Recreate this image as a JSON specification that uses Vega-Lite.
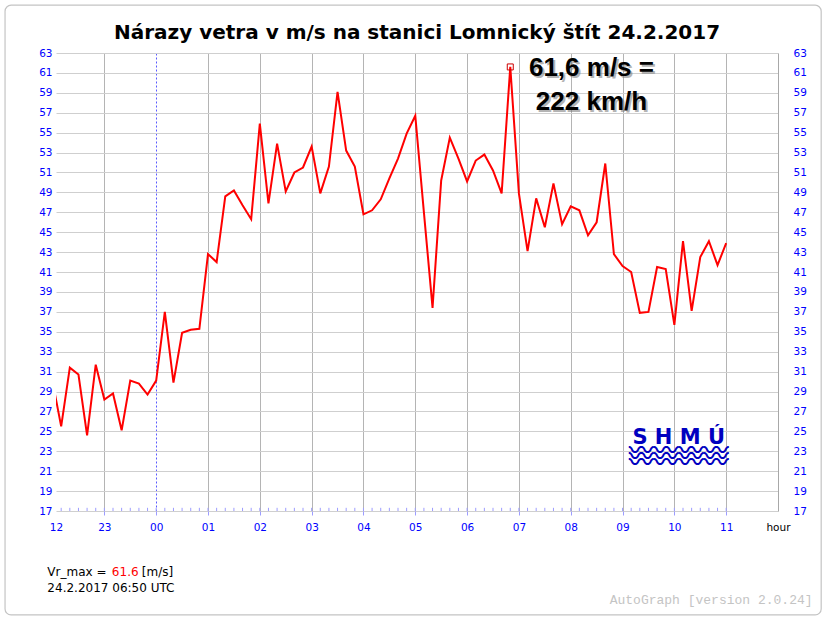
{
  "$schema": "https://vega.github.io/schema/vega-lite/v6.json",
  "width": 722,
  "height": 458,
  "autosize": {"type": "none"},
  "padding": {"left": 56, "top": 53, "right": 49, "bottom": 109},
  "background": "white",
  "config": {"view": {"stroke": null}},
  "data": {"values": [
    {"t": "2017-02-23T22:00Z", "v": 30.0},
    {"t": "2017-02-23T22:10Z", "v": 25.5},
    {"t": "2017-02-23T22:20Z", "v": 31.4},
    {"t": "2017-02-23T22:30Z", "v": 30.7},
    {"t": "2017-02-23T22:40Z", "v": 24.6},
    {"t": "2017-02-23T22:50Z", "v": 31.7},
    {"t": "2017-02-23T23:00Z", "v": 28.2},
    {"t": "2017-02-23T23:10Z", "v": 28.8},
    {"t": "2017-02-23T23:20Z", "v": 25.1},
    {"t": "2017-02-23T23:30Z", "v": 30.1},
    {"t": "2017-02-23T23:40Z", "v": 29.8},
    {"t": "2017-02-23T23:50Z", "v": 28.7},
    {"t": "2017-02-24T00:00Z", "v": 30.1},
    {"t": "2017-02-24T00:10Z", "v": 37.0},
    {"t": "2017-02-24T00:20Z", "v": 29.9},
    {"t": "2017-02-24T00:30Z", "v": 34.9},
    {"t": "2017-02-24T00:40Z", "v": 35.2},
    {"t": "2017-02-24T00:50Z", "v": 35.3},
    {"t": "2017-02-24T01:00Z", "v": 42.8},
    {"t": "2017-02-24T01:10Z", "v": 42.0},
    {"t": "2017-02-24T01:20Z", "v": 48.6},
    {"t": "2017-02-24T01:30Z", "v": 49.2},
    {"t": "2017-02-24T01:40Z", "v": 47.7},
    {"t": "2017-02-24T01:50Z", "v": 46.3},
    {"t": "2017-02-24T02:00Z", "v": 55.9},
    {"t": "2017-02-24T02:10Z", "v": 47.9},
    {"t": "2017-02-24T02:20Z", "v": 53.9},
    {"t": "2017-02-24T02:30Z", "v": 49.1},
    {"t": "2017-02-24T02:40Z", "v": 51.0},
    {"t": "2017-02-24T02:50Z", "v": 51.5},
    {"t": "2017-02-24T03:00Z", "v": 53.6},
    {"t": "2017-02-24T03:10Z", "v": 48.9},
    {"t": "2017-02-24T03:20Z", "v": 51.6},
    {"t": "2017-02-24T03:30Z", "v": 59.1},
    {"t": "2017-02-24T03:40Z", "v": 53.2},
    {"t": "2017-02-24T03:50Z", "v": 51.6},
    {"t": "2017-02-24T04:00Z", "v": 46.8},
    {"t": "2017-02-24T04:10Z", "v": 47.2},
    {"t": "2017-02-24T04:20Z", "v": 48.3},
    {"t": "2017-02-24T04:30Z", "v": 50.4},
    {"t": "2017-02-24T04:40Z", "v": 52.4},
    {"t": "2017-02-24T04:50Z", "v": 54.9},
    {"t": "2017-02-24T05:00Z", "v": 56.7},
    {"t": "2017-02-24T05:10Z", "v": 47.0},
    {"t": "2017-02-24T05:20Z", "v": 37.4},
    {"t": "2017-02-24T05:30Z", "v": 50.2},
    {"t": "2017-02-24T05:40Z", "v": 54.5},
    {"t": "2017-02-24T05:50Z", "v": 52.4},
    {"t": "2017-02-24T06:00Z", "v": 50.1},
    {"t": "2017-02-24T06:10Z", "v": 52.2},
    {"t": "2017-02-24T06:20Z", "v": 52.8},
    {"t": "2017-02-24T06:30Z", "v": 51.2},
    {"t": "2017-02-24T06:40Z", "v": 48.9},
    {"t": "2017-02-24T06:50Z", "v": 61.6},
    {"t": "2017-02-24T07:00Z", "v": 48.9},
    {"t": "2017-02-24T07:10Z", "v": 43.1},
    {"t": "2017-02-24T07:20Z", "v": 48.4},
    {"t": "2017-02-24T07:30Z", "v": 45.5},
    {"t": "2017-02-24T07:40Z", "v": 49.9},
    {"t": "2017-02-24T07:50Z", "v": 45.8},
    {"t": "2017-02-24T08:00Z", "v": 47.6},
    {"t": "2017-02-24T08:10Z", "v": 47.2},
    {"t": "2017-02-24T08:20Z", "v": 44.7},
    {"t": "2017-02-24T08:30Z", "v": 46.0},
    {"t": "2017-02-24T08:40Z", "v": 51.9},
    {"t": "2017-02-24T08:50Z", "v": 42.8},
    {"t": "2017-02-24T09:00Z", "v": 41.6},
    {"t": "2017-02-24T09:10Z", "v": 41.0},
    {"t": "2017-02-24T09:20Z", "v": 36.9},
    {"t": "2017-02-24T09:30Z", "v": 37.0},
    {"t": "2017-02-24T09:40Z", "v": 41.5},
    {"t": "2017-02-24T09:50Z", "v": 41.3},
    {"t": "2017-02-24T10:00Z", "v": 35.7},
    {"t": "2017-02-24T10:10Z", "v": 44.1},
    {"t": "2017-02-24T10:20Z", "v": 37.1},
    {"t": "2017-02-24T10:30Z", "v": 42.5},
    {"t": "2017-02-24T10:40Z", "v": 44.1},
    {"t": "2017-02-24T10:50Z", "v": 41.7},
    {"t": "2017-02-24T11:00Z", "v": 43.9}
  ]},
  "resolve": {"scale": {"y": "independent"}},
  "layer": [
    {
      "layer": [
        {
          "mark": {"type": "line", "color": "#ff0000", "strokeWidth": 2, "clip": true},
          "encoding": {
            "x": {"field": "t", "type": "temporal",
              "scale": {"type": "utc", "domain": [{"year": 2017, "month": 2, "date": 23, "hours": 22, "minutes": 4, "utc": true}, {"year": 2017, "month": 2, "date": 24, "hours": 12, "minutes": 0, "utc": true}], "nice": false},
              "axis": {
                "orient": "bottom", "title": null, "tickCount": 40,
                "values": [
                  {"year": 2017, "month": 2, "date": 23, "hours": 22, "minutes": 4, "utc": true},
                  {"year": 2017, "month": 2, "date": 23, "hours": 23, "utc": true},
                  {"year": 2017, "month": 2, "date": 24, "hours": 0, "utc": true},
                  {"year": 2017, "month": 2, "date": 24, "hours": 1, "utc": true},
                  {"year": 2017, "month": 2, "date": 24, "hours": 2, "utc": true},
                  {"year": 2017, "month": 2, "date": 24, "hours": 3, "utc": true},
                  {"year": 2017, "month": 2, "date": 24, "hours": 4, "utc": true},
                  {"year": 2017, "month": 2, "date": 24, "hours": 5, "utc": true},
                  {"year": 2017, "month": 2, "date": 24, "hours": 6, "utc": true},
                  {"year": 2017, "month": 2, "date": 24, "hours": 7, "utc": true},
                  {"year": 2017, "month": 2, "date": 24, "hours": 8, "utc": true},
                  {"year": 2017, "month": 2, "date": 24, "hours": 9, "utc": true},
                  {"year": 2017, "month": 2, "date": 24, "hours": 10, "utc": true},
                  {"year": 2017, "month": 2, "date": 24, "hours": 11, "utc": true},
                  {"year": 2017, "month": 2, "date": 24, "hours": 12, "utc": true}
                ],
                "labelExpr": "utchours(datum.value) == 22 ? '12' : (utchours(datum.value) == 12 ? 'hour' : utcFormat(datum.value, '%H'))",
                "grid": true,
                "gridColor": {"condition": {"test": "utchours(datum.value) == 0", "value": "#5a5aff"}, "value": "#b4b4b4"},
                "gridDash": {"condition": {"test": "utchours(datum.value) == 0", "value": [2, 2]}, "value": []},
                "gridOpacity": {"condition": {"test": "utchours(datum.value) == 22 || utchours(datum.value) == 12", "value": 0}, "value": 1},
                "tickOpacity": {"condition": {"test": "utchours(datum.value) == 22 || utchours(datum.value) == 12", "value": 0}, "value": 1},
                "tickColor": "#9c9cff", "tickSize": 4, "domain": false,
                "labelColor": {"condition": {"test": "utchours(datum.value) == 12", "value": "#000000"}, "value": "#0000ff"},
                "labelFont": "DejaVu Sans", "labelFontSize": 10.5, "labelPadding": 7,
                "labelFlush": false, "labelOverlap": false
              }
            },
            "y": {"field": "v", "type": "quantitative",
              "scale": {"domain": [17, 63], "nice": false, "zero": false},
              "axis": {
                "orient": "left", "title": null, "tickCount": 50,
                "values": [17, 19, 21, 23, 25, 27, 29, 31, 33, 35, 37, 39, 41, 43, 45, 47, 49, 51, 53, 55, 57, 59, 61, 63],
                "grid": true, "gridColor": "#cfcfcf", "ticks": false, "domain": false, "labelOverlap": false,
                "labelColor": "#0000ff", "labelFont": "DejaVu Sans", "labelFontSize": 10.5, "labelPadding": 4
              }
            }
          }
        },
        {
          "mark": {"type": "rule", "color": "#9c9cff", "strokeWidth": 1, "clip": true},
          "encoding": {
            "x": {"field": "t", "type": "temporal"},
            "y": {"datum": 17, "type": "quantitative"},
            "y2": {"datum": 17.32}
          }
        },
        {
          "data": {"values": [{}]},
          "mark": {"type": "rect", "filled": false, "stroke": "#c4c4c4", "strokeWidth": 1.2, "cornerRadius": 6},
          "encoding": {
            "x": {"datum": {"year": 2017, "month": 2, "date": 23, "hours": 21, "minutes": 5, "utc": true}, "type": "temporal"},
            "x2": {"datum": {"year": 2017, "month": 2, "date": 24, "hours": 12, "minutes": 50, "utc": true}},
            "y": {"datum": 67.8, "type": "quantitative"},
            "y2": {"datum": 6.56}
          }
        },
        {
          "data": {"values": [{}]},
          "mark": {"type": "text", "text": "Nárazy vetra v m/s na stanici Lomnický štít 24.2.2017", "font": "DejaVu Sans", "fontSize": 20, "fontWeight": "bold", "color": "#000000", "align": "center", "baseline": "alphabetic"},
          "encoding": {
            "x": {"datum": {"year": 2017, "month": 2, "date": 24, "hours": 5, "minutes": 2, "utc": true}, "type": "temporal"},
            "y": {"datum": 64.4, "type": "quantitative"}
          }
        },
        {
          "data": {"values": [{}]},
          "mark": {"type": "text", "text": "61,6 m/s =", "font": "Liberation Sans", "fontSize": 26, "fontWeight": "bold", "color": "#777777", "opacity": 0.55, "align": "center", "baseline": "alphabetic", "dx": 2, "dy": 2},
          "encoding": {
            "x": {"datum": {"year": 2017, "month": 2, "date": 24, "hours": 8, "minutes": 24, "utc": true}, "type": "temporal"},
            "y": {"datum": 60.7, "type": "quantitative"}
          }
        },
        {
          "data": {"values": [{}]},
          "mark": {"type": "text", "text": "222 km/h", "font": "Liberation Sans", "fontSize": 26, "fontWeight": "bold", "color": "#777777", "opacity": 0.55, "align": "center", "baseline": "alphabetic", "dx": 2, "dy": 2},
          "encoding": {
            "x": {"datum": {"year": 2017, "month": 2, "date": 24, "hours": 8, "minutes": 24, "utc": true}, "type": "temporal"},
            "y": {"datum": 57.3, "type": "quantitative"}
          }
        },
        {
          "data": {"values": [{}]},
          "mark": {"type": "text", "text": "61,6 m/s =", "font": "Liberation Sans", "fontSize": 26, "fontWeight": "bold", "color": "#000000", "align": "center", "baseline": "alphabetic"},
          "encoding": {
            "x": {"datum": {"year": 2017, "month": 2, "date": 24, "hours": 8, "minutes": 24, "utc": true}, "type": "temporal"},
            "y": {"datum": 60.7, "type": "quantitative"}
          }
        },
        {
          "data": {"values": [{}]},
          "mark": {"type": "text", "text": "222 km/h", "font": "Liberation Sans", "fontSize": 26, "fontWeight": "bold", "color": "#000000", "align": "center", "baseline": "alphabetic"},
          "encoding": {
            "x": {"datum": {"year": 2017, "month": 2, "date": 24, "hours": 8, "minutes": 24, "utc": true}, "type": "temporal"},
            "y": {"datum": 57.3, "type": "quantitative"}
          }
        },
        {
          "data": {"values": [{}]},
          "mark": {"type": "text", "text": "S H M Ú", "font": "DejaVu Sans", "fontSize": 21, "fontWeight": "bold", "color": "#0000c0", "align": "center", "baseline": "middle"},
          "encoding": {
            "x": {"datum": {"year": 2017, "month": 2, "date": 24, "hours": 10, "minutes": 5, "utc": true}, "type": "temporal"},
            "y": {"datum": 24.3, "type": "quantitative"}
          }
        },
        {
          "data": {"values": [{}]},
          "mark": {"type": "text", "text": "〰〰〰〰", "font": "Noto Sans CJK SC", "fontSize": 25, "fontWeight": "bold", "color": "#0000c0", "align": "center", "baseline": "middle"},
          "encoding": {
            "x": {"datum": {"year": 2017, "month": 2, "date": 24, "hours": 10, "minutes": 5, "utc": true}, "type": "temporal"},
            "y": {"datum": 23.0, "type": "quantitative"}
          }
        },
        {
          "data": {"values": [{}]},
          "mark": {"type": "text", "text": "〰〰〰〰", "font": "Noto Sans CJK SC", "fontSize": 25, "fontWeight": "bold", "color": "#0000c0", "align": "center", "baseline": "middle"},
          "encoding": {
            "x": {"datum": {"year": 2017, "month": 2, "date": 24, "hours": 10, "minutes": 5, "utc": true}, "type": "temporal"},
            "y": {"datum": 22.4, "type": "quantitative"}
          }
        },
        {
          "data": {"values": [{}]},
          "mark": {"type": "text", "text": "〰〰〰〰", "font": "Noto Sans CJK SC", "fontSize": 25, "fontWeight": "bold", "color": "#0000c0", "align": "center", "baseline": "middle"},
          "encoding": {
            "x": {"datum": {"year": 2017, "month": 2, "date": 24, "hours": 10, "minutes": 5, "utc": true}, "type": "temporal"},
            "y": {"datum": 21.8, "type": "quantitative"}
          }
        },
        {
          "data": {"values": [{}]},
          "mark": {"type": "text", "text": "Vr_max = ", "font": "DejaVu Sans", "fontSize": 12, "color": "#000000", "align": "left", "baseline": "middle"},
          "encoding": {
            "x": {"datum": {"year": 2017, "month": 2, "date": 23, "hours": 21, "minutes": 54, "utc": true}, "type": "temporal"},
            "y": {"datum": 10.87, "type": "quantitative"}
          }
        },
        {
          "data": {"values": [{}]},
          "mark": {"type": "text", "text": "61.6", "font": "DejaVu Sans", "fontSize": 12, "color": "#ff0000", "align": "left", "baseline": "middle", "dx": 64.5},
          "encoding": {
            "x": {"datum": {"year": 2017, "month": 2, "date": 23, "hours": 21, "minutes": 54, "utc": true}, "type": "temporal"},
            "y": {"datum": 10.87, "type": "quantitative"}
          }
        },
        {
          "data": {"values": [{}]},
          "mark": {"type": "text", "text": "[m/s]", "font": "DejaVu Sans", "fontSize": 12, "color": "#000000", "align": "left", "baseline": "middle", "dx": 94.5},
          "encoding": {
            "x": {"datum": {"year": 2017, "month": 2, "date": 23, "hours": 21, "minutes": 54, "utc": true}, "type": "temporal"},
            "y": {"datum": 10.87, "type": "quantitative"}
          }
        },
        {
          "data": {"values": [{}]},
          "mark": {"type": "text", "text": "24.2.2017 06:50 UTC", "font": "DejaVu Sans", "fontSize": 12, "color": "#000000", "align": "left", "baseline": "middle"},
          "encoding": {
            "x": {"datum": {"year": 2017, "month": 2, "date": 23, "hours": 21, "minutes": 54, "utc": true}, "type": "temporal"},
            "y": {"datum": 9.26, "type": "quantitative"}
          }
        },
        {
          "data": {"values": [{}]},
          "mark": {"type": "text", "text": "AutoGraph [version 2.0.24]", "font": "Liberation Mono", "fontSize": 13, "color": "#c4c4c4", "align": "right", "baseline": "middle"},
          "encoding": {
            "x": {"datum": {"year": 2017, "month": 2, "date": 24, "hours": 12, "minutes": 40, "utc": true}, "type": "temporal"},
            "y": {"datum": 8.06, "type": "quantitative"}
          }
        }
      ]
    },
    {
      "transform": [{"filter": "datum.v == 61.6"}],
      "mark": {"type": "point", "shape": "square", "filled": false, "stroke": "#cc0000", "strokeWidth": 1, "size": 36, "opacity": 1},
      "encoding": {
        "x": {"field": "t", "type": "temporal"},
        "y": {"field": "v", "type": "quantitative",
          "scale": {"domain": [17, 63], "nice": false, "zero": false},
          "axis": {
            "orient": "right", "title": null, "tickCount": 50,
            "values": [17, 19, 21, 23, 25, 27, 29, 31, 33, 35, 37, 39, 41, 43, 45, 47, 49, 51, 53, 55, 57, 59, 61, 63],
            "grid": false, "ticks": false, "domain": true, "domainColor": "#a8a8a8", "labelOverlap": false,
            "labelColor": "#0000ff", "labelFont": "DejaVu Sans", "labelFontSize": 10.5, "labelPadding": 15
          }
        }
      }
    }
  ]
}
